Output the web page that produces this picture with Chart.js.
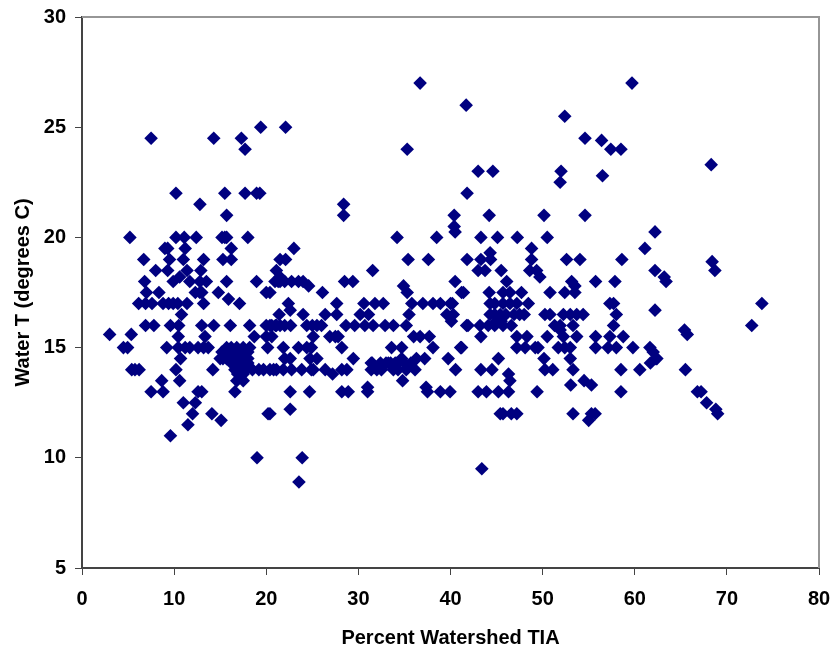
<!DOCTYPE html>
<html>
<head>
<meta charset="utf-8">
<title>Water T vs Percent Watershed TIA</title>
<script src="https://cdn.jsdelivr.net/npm/chart.js@4"></script>
<style>
  html, body { margin: 0; padding: 0; background: #fff; }
  #wrap { position: relative; width: 831px; height: 649px; }
</style>
</head>
<body>
<div id="wrap"><canvas id="scatter" width="831" height="649"></canvas></div>
<script>
// Water temperature levels, top to bottom
const waterTLevels = [27, 26, 25.5, 25, 24.5, 24.4, 24, 23.3, 23, 22.8, 22.5, 22, 21.5, 21, 20.5, 20.25, 20, 19.5, 19.3, 19, 18.9, 18.5, 18.2, 18, 17.8, 17.5, 17.2, 17, 16.7, 16.5, 16.2, 16, 15.8, 15.6, 15.5, 15, 14.8, 14.5, 14.3, 14, 13.8, 13.5, 13.3, 13.2, 13, 12.5, 12.2, 12, 11.7, 11.5, 11, 10, 9.5, 8.9];

// Percent watershed TIA for each level above
const tiaByLevel = [
  [36.7, 59.7],
  [41.7],
  [52.4],
  [19.4, 22.1],
  [7.5, 14.3, 17.3, 54.6],
  [56.4],
  [17.7, 35.3, 57.4, 58.5],
  [68.3],
  [43, 44.6, 52],
  [56.5],
  [51.9],
  [10.2, 15.5, 17.7, 18.95, 19.3, 41.8],
  [12.8, 28.4],
  [15.7, 28.4, 40.4, 44.2, 50.15, 54.6],
  [40.4],
  [40.5, 62.2],
  [5.2, 10.2, 11.1, 12.4, 15.2, 15.5, 15.7, 18, 34.2, 38.5, 43.3, 45.1, 47.25, 50.5],
  [9, 9.3, 11.2, 16.2, 23, 48.8, 61.1],
  [44.3],
  [6.7, 9.5, 11, 13.2, 15.3, 16.2, 21.5, 22.1, 35.4, 37.6, 41.8, 43.3, 44.35, 48.8, 52.6, 54.05, 58.6],
  [68.4],
  [8, 9.3, 11.4, 12.9, 21.1, 31.55, 43, 43.75, 45.5, 48.6, 49.35, 62.2, 68.7],
  [10.6, 21.5, 49.7, 63.2],
  [6.8, 9.9, 11.7, 12.8, 13.5, 15.7, 18.95, 21.3, 20.95, 21.5, 22, 22.75, 23.5, 24, 28.5, 29.4, 40.5, 46.1, 53.15, 55.75, 57.85, 63.4],
  [24.6, 34.9, 53.5],
  [7, 8.35, 12.3, 12.8, 13, 14.8, 20, 20.4, 26.1, 35.3, 41.2, 41.4, 44.2, 45.7, 46.45, 47.7, 50.8, 52.4, 53.5],
  [15.9],
  [6.15, 6.9, 7.6, 8.8, 9.4, 9.9, 10.4, 11.4, 13.2, 17.1, 22.4, 27.65, 30.6, 31.8, 32.7, 35.8, 37, 38.1, 38.9, 40, 40.2, 44.3, 44.8, 45.7, 46.45, 47.2, 48.45, 57.3, 57.7, 73.8],
  [22.6, 62.2],
  [10.8, 21.4, 24, 26.4, 27.65, 30.2, 31.1, 35.5, 39.6, 40.3, 44.3, 44.8, 45.4, 46, 46.9, 47.5, 48, 50.25, 50.8, 52.25, 53, 53.7, 54.4, 58],
  [40.1, 45, 45.5],
  [6.9, 7.8, 9.6, 10.5, 13, 14.3, 16.1, 18.2, 20, 20.4, 20.6, 21, 21.1, 21.5, 22, 22.65, 24.4, 25, 25.5, 26, 28.65, 29.6, 30.7, 31.6, 32.9, 33.8, 35.2, 41.75, 41.9, 43.2, 44.1, 44.8, 45.7, 46.6, 51.3, 51.9, 53.3, 57.7, 72.7],
  [51.9, 65.4],
  [3, 5.35, 65.7],
  [10.45, 13.35, 18.7, 20, 20.6, 25.1, 26.9, 27.5, 27.8, 36, 36.7, 37.7, 43.3, 47.2, 48.3, 50.5, 52.25, 53.7, 55.75, 57.3, 58.75],
  [4.5, 4.95, 9.2, 10.45, 11.2, 11.7, 12.6, 13.2, 13.7, 15.7, 16.2, 16.8, 17.5, 18.2, 20.15, 21.85, 23.5, 24.4, 24.9, 28.2, 33.6, 34.7, 38.1, 41.1, 41.2, 47.2, 48.1, 49.2, 49.5, 51.7, 52.4, 53, 55.75, 57.1, 58, 59.8, 61.65],
  [15.2, 16, 16.6, 17.3, 18, 62],
  [10.7, 15, 15.3, 15.7, 16.2, 16.4, 16.8, 17, 17.4, 18, 22, 22.6, 24.75, 25.5, 29.45, 34.7, 36.3, 37.2, 39.75, 45.2, 50.15, 53, 62.3, 62.4],
  [16.2, 17, 17.5, 18, 31.4, 31.5, 32.4, 33, 33.25, 33.5, 34, 34.2, 35, 35.7, 61.7],
  [5.4, 5.75, 6.2, 10.2, 14.2, 16.6, 17.2, 17.8, 18.5, 19.2, 19.7, 20.4, 21.1, 20.8, 21.85, 22.75, 23.85, 24.9, 25.1, 26.4, 28.2, 28.75, 31.4, 32, 32.5, 33.8, 34.3, 35.2, 36.15, 40.55, 43.3, 44.5, 50.25, 51.1, 53.3, 58.5, 60.55, 65.5],
  [16.9, 17.5, 27.2, 46.3],
  [8.65, 10.6, 16.8, 17.5, 34.8, 46.45, 54.5],
  [53.05, 55.3],
  [31, 37.35],
  [7.5, 8.8, 12.6, 13, 16.6, 22.6, 24.7, 28.2, 28.9, 31, 37.5, 38.9, 39.95, 43, 43.9, 45.2, 46.3, 49.4, 58.5, 66.8, 67.2],
  [11, 12.3, 67.8],
  [22.6, 68.8],
  [12, 14.1, 20.2, 20.4, 45.4, 45.7, 46.6, 47.2, 53.3, 55.3, 55.7, 69],
  [15.1, 55],
  [11.5],
  [9.6],
  [19, 23.9],
  [43.4],
  [23.55]
];

const xTicks = [0, 10, 20, 30, 40, 50, 60, 70, 80];
const yTicks = [5, 10, 15, 20, 25, 30];

const points = [];
waterTLevels.forEach((level, i) => {
    tiaByLevel[i].forEach(tia => points.push({ x: tia, y: level }));
});

const axisColor = '#444444';
const frameColor = '#969696';
const labelFont = { family: '"Liberation Sans", Arial, sans-serif', size: 20, weight: 'bold' };
const titleFont = { family: '"Liberation Sans", Arial, sans-serif', size: 20, weight: 'bold', lineHeight: 1.1 };

// Grey top and right edges of the plot frame
const plotFrame = {
    id: 'plotFrame',
    beforeDatasetsDraw(chart) {
        const { ctx, chartArea } = chart;
        ctx.save();
        ctx.strokeStyle = frameColor;
        ctx.lineWidth = 2;
        ctx.beginPath();
        ctx.moveTo(chartArea.left, chartArea.top);
        ctx.lineTo(chartArea.right, chartArea.top);
        ctx.lineTo(chartArea.right, chartArea.bottom);
        ctx.stroke();
        ctx.restore();
    }
};

new Chart(document.getElementById('scatter'), {
    type: 'scatter',
    data: {
        datasets: [{
            label: 'Water T',
            data: points,
            pointStyle: 'rectRot',
            pointRadius: 6.8,
            pointBorderWidth: 0,
            backgroundColor: '#000080',
            borderColor: '#000080'
        }]
    },
    plugins: [plotFrame],
    options: {
        responsive: false,
        animation: false,
        layout: { padding: { top: 17, right: 12, left: 0, bottom: 0 } },
        plugins: { legend: { display: false }, title: { display: false }, tooltip: { enabled: false } },
        scales: {
            x: {
                type: 'linear',
                min: 0,
                max: 80,
                afterFit: scale => {
                    scale.height = 81;
                    scale.paddingLeft = 0;
                    scale.paddingRight = 0;
                },
                afterBuildTicks: scale => { scale.ticks = xTicks.map(v => ({ value: v })); },
                grid: { drawOnChartArea: false, tickLength: 7, tickColor: axisColor, tickWidth: 1 },
                border: { color: axisColor, width: 2 },
                ticks: { color: '#000', font: labelFont, padding: 12, maxRotation: 0 },
                title: {
                    display: true,
                    text: 'Percent Watershed TIA',
                    color: '#000',
                    font: titleFont,
                    padding: { top: 0, bottom: 0 }
                }
            },
            y: {
                type: 'linear',
                min: 5,
                max: 30,
                afterFit: scale => {
                    scale.width = 82;
                    scale.paddingTop = 0;
                    scale.paddingBottom = 0;
                },
                afterBuildTicks: scale => { scale.ticks = yTicks.map(v => ({ value: v })); },
                grid: { drawOnChartArea: false, tickLength: 7, tickColor: axisColor, tickWidth: 1 },
                border: { color: axisColor, width: 2 },
                ticks: { color: '#000', font: labelFont, padding: 9 },
                title: {
                    display: true,
                    text: 'Water T (degrees C)',
                    color: '#000',
                    font: titleFont,
                    padding: { top: 12, bottom: 0 }
                }
            }
        }
    }
});
</script>
</body>
</html>
